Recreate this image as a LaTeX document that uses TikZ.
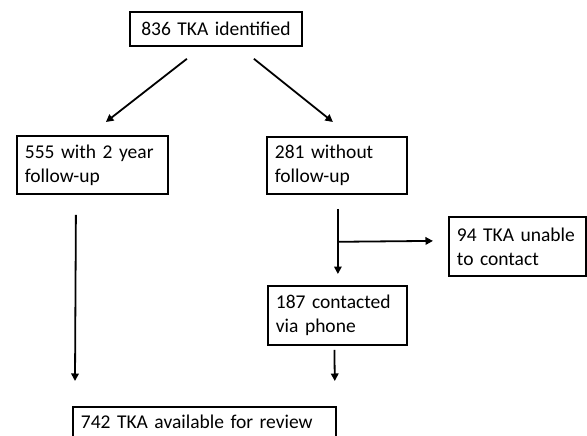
\documentclass[tikz,border=0pt]{standalone}
\usepackage{fontspec}
\setmainfont{Carlito}
\usetikzlibrary{arrows.meta,calc}
\begin{document}
\begin{tikzpicture}[x=1pt,y=-1pt,
  box/.style={draw,line width=1.8pt,anchor=north west,inner xsep=8pt,inner ysep=0pt,align=left,
    font=\fontsize{19.5}{24}\selectfont},
  arr/.style={line width=1.8pt,-{Triangle[length=7.5pt,width=7.5pt]}}]
\useasboundingbox (0,0) rectangle (587,436);
\clip (0,0) rectangle (587,436);
\node[box,minimum width=172pt,minimum height=34pt,text width=156pt,align=center] (top) at (129,11) {836 TKA identified};
\node[box,minimum width=151pt,minimum height=58pt,text width=135pt] (left) at (16,135) {555 with 2 year\\follow-up};
\node[box,minimum width=140pt,minimum height=57pt,text width=124pt] (right) at (266,136) {281 without\\follow-up};
\node[box,minimum width=137pt,minimum height=59pt,text width=121pt] (unable) at (448,216) {94 TKA unable\\to contact};
\node[box,minimum width=139pt,minimum height=59pt,text width=123pt] (contacted) at (267,285) {187 contacted\\via phone};
\node[box,text width=247pt,text height=22pt,text depth=40pt] (bottom) at (72,406) {742 TKA available for review};
\coordinate (branch) at ($(right.south)+(1,47)$);
\draw[arr] ($(top.south)+(-29,12)$) -- ($(left.north)+(13.5,-13)$);
\draw[arr] ($(top.south)+(38,12)$) -- ($(right.north)+(-4,-14)$);
\draw[arr] ($(left.south)+(-16.5,20)$) -- ($(bottom.north west)+(3,-25)$);
\draw[arr] ($(right.south)+(1,14)$) -- ($(contacted.north)+(0.5,-11)$);
\draw[arr] (branch) -- ($(unable.west)+(-15,-5.5)$);
\draw[arr] ($(contacted.south)+(-3,4)$) -- ($(bottom.north east)+(-2,-25)$);
\end{tikzpicture}
\end{document}
